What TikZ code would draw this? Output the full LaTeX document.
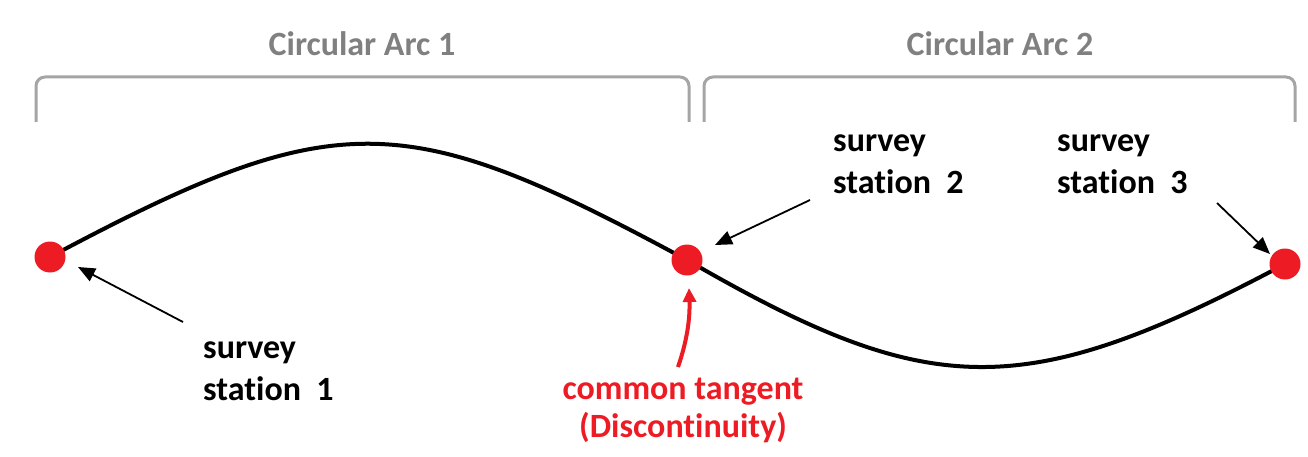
\documentclass[tikz,border=0pt]{standalone}
\usepackage{fontspec}
\setmainfont{Carlito}[Ligatures=NoCommon]
\usetikzlibrary{arrows.meta}
\definecolor{myred}{RGB}{237,28,36}
\definecolor{bracketgray}{RGB}{165,165,165}
\definecolor{textgray}{RGB}{128,128,128}
\begin{document}
\begin{tikzpicture}[x=1pt,y=1pt,
  dotnode/.style={circle,fill=myred,minimum size=31pt,inner sep=0pt},
  bracketline/.style={draw=bracketgray,line width=3pt,rounded corners=9pt},
  arctitle/.style={font=\fontsize{34}{41}\selectfont\bfseries,text=textgray,anchor=base},
  stationlabel/.style={font=\fontsize{34}{42}\selectfont\bfseries,align=left,anchor=base west,inner sep=0pt},
  redlabel/.style={font=\fontsize{34}{38}\selectfont\bfseries,text=myred,align=center,anchor=base,inner sep=0pt},
  pointer/.style={draw=black,line width=1.8pt,-{Triangle[length=17pt,width=14pt]}},
  redpointer/.style={draw=myred,line width=4pt,-{Triangle[length=14pt,width=13pt]}}
]
\useasboundingbox (0,0) rectangle (1308,456);
% brackets
\draw[bracketline] (36,334) -- (36,379) -- (689,379) -- (689,334);
\draw[bracketline] (704,334) -- (704,379) -- (1295,379) -- (1295,334);
\node[arctitle] (t1) at (362,400) {Circular Arc 1};
\node[arctitle] (t2) at (1000,400) {Circular Arc 2};
% curve
\coordinate (p1) at (50,199);
\coordinate (p2) at (687,196);
\coordinate (p3) at (1285,192);
\draw[line width=4pt] (p1) .. controls (337,352) and (404,349) .. (p2)
  .. controls (929,56) and (1022,52) .. (p3);
\node[dotnode] (d1) at (p1) {};
\node[dotnode] (d2) at (p2) {};
\node[dotnode] (d3) at (p3) {};
% labels (anchor = baseline of the last line)
\node[stationlabel] (s1) at (203,56) {survey\\station\ \ 1};
\node[stationlabel] (s2) at (833,263) {survey\\station\ \ 2};
\node[stationlabel] (s3) at (1057,263) {survey\\station\ \ 3};
\node[redlabel] (ct) at (683,19) {common tangent\\(Discontinuity)};
% pointers
\coordinate (a1s) at (183,134);
\coordinate (a1e) at (78,189);
\coordinate (a2s) at (810,256);
\coordinate (a2e) at (715,211);
\coordinate (a3s) at (1217,253);
\coordinate (a3e) at (1270,202);
\draw[pointer] (a1s) -- (a1e);
\draw[pointer] (a2s) -- (a2e);
\draw[pointer] (a3s) -- (a3e);
\coordinate (rs) at (678,89);
\coordinate (re) at (689,168);
\draw[redpointer] (rs) .. controls (688,118) and (690,140) .. (re);
\end{tikzpicture}
\end{document}
